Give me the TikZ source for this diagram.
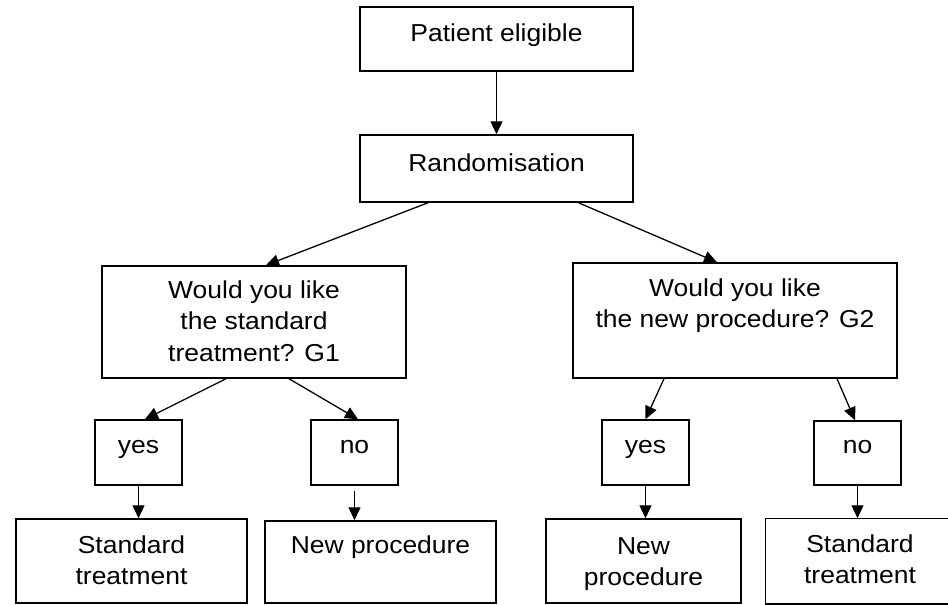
\documentclass[tikz,border=0pt]{standalone}
\usepackage{fontspec}
\setmainfont{Liberation Sans}[FakeStretch=1.08]
\usetikzlibrary{arrows.meta}
\newcommand\bxt[4]{\parbox[c][#2][t]{#1}{\centering\rule{0pt}{#3}#4\par}}
\begin{document}
\begin{tikzpicture}[x=1pt,y=-1pt,
  box/.style={draw, line width=1.5pt, inner sep=0pt, font=\fontsize{24.5}{31.5}\selectfont},
  openbox/.style={box, draw=none},
  arr/.style={line width=1.3pt, -{Triangle[length=13pt,width=12pt]}}]
\useasboundingbox (0,0) rectangle (948,605);
\clip (0,0) rectangle (948,605);
\fill[white] (0,0) rectangle (948,605);
\node[box] (pe)   at (496.5,39)    {\bxt{273pt}{64pt}{34pt}{Patient eligible}};
\node[box] (rand) at (496.5,168.5) {\bxt{273pt}{67pt}{36pt}{Randomisation}};
\node[box] (g1)   at (254,322)     {\bxt{304pt}{112pt}{32pt}{Would you like\\the standard\\treatment? G1}};
\node[box] (g2)   at (735,320.5)   {\bxt{324pt}{115pt}{33pt}{Would you like\\the new procedure? G2}};
\node[box] (yes1) at (138.5,452.5) {\bxt{87pt}{65pt}{33pt}{yes}};
\node[box] (no1)  at (354.5,452.5) {\bxt{87pt}{65pt}{33pt}{no}};
\node[box] (yes2) at (645.5,452.5) {\bxt{87pt}{65pt}{33pt}{yes}};
\node[box] (no2)  at (857.5,453)   {\bxt{87pt}{64pt}{32pt}{no}};
\node[box] (std1) at (131.5,561)   {\bxt{231pt}{84pt}{34pt}{Standard\\treatment}};
\node[box] (new1) at (380.5,562)   {\bxt{231pt}{82pt}{32pt}{New procedure}};
\node[box] (new2) at (643.5,561)   {\bxt{195pt}{84pt}{35pt}{New\\procedure}};
\node[openbox] (std2) at (876,561) {\parbox[c][84pt][t]{220pt}{\raggedright\rule{0pt}{33pt}\makebox[188pt]{Standard}\\\makebox[188pt]{treatment}\par}};
\draw[line width=1.5pt] (std2.north east) -- (std2.north west) -- (std2.south west) -- (std2.south east);
\draw[arr] (pe.south) -- (rand.north);
\draw[arr] ([xshift=-68.5pt]rand.south) -- ([xshift=12pt]g1.north);
\draw[arr] ([xshift=82pt]rand.south) -- ([xshift=-18pt]g2.north);
\draw[arr] ([xshift=-28pt]g1.south) -- ([xshift=6.5pt]yes1.north);
\draw[arr] ([xshift=35pt]g1.south) -- ([xshift=3.5pt]no1.north);
\draw[arr] ([xshift=-71pt]g2.south) -- (yes2.north);
\draw[arr] ([xshift=102pt]g2.south) -- ([xshift=-2.5pt]no2.north);
\draw[arr] (yes1.south) -- (yes1.south |- std1.north);
\draw[arr] ([yshift=-5pt]no1.south) -- (no1.south |- new1.north);
\draw[arr] (yes2.south) -- (yes2.south |- new2.north);
\draw[arr] (no2.south) -- (no2.south |- std2.north);
\end{tikzpicture}
\end{document}
